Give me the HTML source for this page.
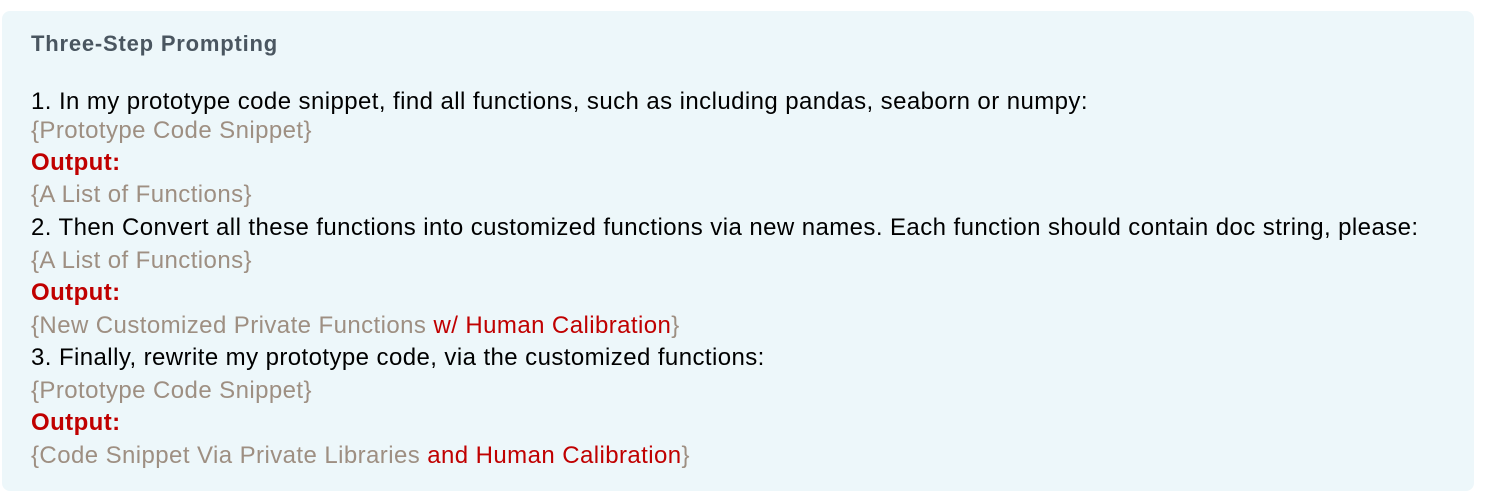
<!DOCTYPE html>
<html><head><meta charset="utf-8"><style>
body{margin:0;width:1495px;height:502px;background:#fff;font-family:"Liberation Sans",sans-serif;overflow:hidden}
.box{position:absolute;left:2px;top:11px;width:1472px;height:480px;background:#edf7fa;border-radius:8px}
.t{position:absolute;left:31px;top:31px;font-size:22px;font-weight:bold;color:#4a5660;letter-spacing:0.8px;line-height:26px}
.l{position:absolute;left:31px;font-size:24px;white-space:nowrap;color:#000;line-height:26px;letter-spacing:0.42px}
.g{color:#9e8f82}.r{color:#c00000}.b{font-weight:bold}
</style></head><body>
<div class="box"></div>
<div class="t">Three-Step Prompting</div>
<div class="l" style="top:89px">1. In my prototype code snippet, find all functions, such as including pandas, seaborn or numpy:</div>
<div class="l g" style="top:118px">{Prototype Code Snippet}</div>
<div class="l r b" style="top:150px">Output:</div>
<div class="l g" style="top:182px">{A List of Functions}</div>
<div class="l" style="top:215px">2. Then Convert all these functions into customized functions via new names. Each function should contain doc string, please:</div>
<div class="l g" style="top:248px">{A List of Functions}</div>
<div class="l r b" style="top:280px">Output:</div>
<div class="l g" style="top:313px">{New Customized Private Functions <span class="r">w/ Human Calibration</span>}</div>
<div class="l" style="top:345px">3. Finally, rewrite my prototype code, via the customized functions:</div>
<div class="l g" style="top:378px">{Prototype Code Snippet}</div>
<div class="l r b" style="top:410px">Output:</div>
<div class="l g" style="top:443px">{Code Snippet Via Private Libraries <span class="r">and Human Calibration</span>}</div>
</body></html>
